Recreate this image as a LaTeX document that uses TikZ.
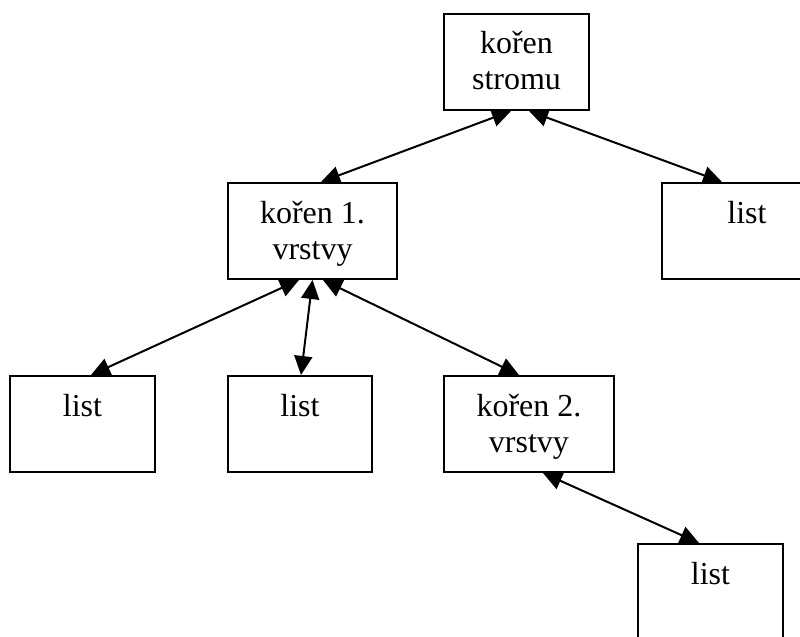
\documentclass[tikz,border=0pt]{standalone}
\usepackage{fontspec}
\setmainfont{Liberation Serif}
\usetikzlibrary{arrows.meta}
\newcommand{\boxtext}[2]{\parbox[t][48pt][t]{#1}{\centering\rule{0pt}{20pt}#2}}

\begin{document}
\begin{tikzpicture}[x=0.5pt, y=-0.5pt,
    box/.style={draw, line width=1pt, inner sep=0pt, anchor=north west,
      font=\fontsize{16}{18}\selectfont},
    link/.style={line width=1pt,
      {Triangle[length=9.5pt,width=9pt]}-{Triangle[length=9.5pt,width=9pt]}}]

      \path[use as bounding box, clip] (0,0) rectangle (800,637);

      % Root and first level
      \node[box] (root) at (443,13) {\boxtext{72.5pt}{kořen\\stromu}};
      \node[box] (lvlone) at (227,182) {\boxtext{84.5pt}{kořen 1.\\vrstvy}};
      \node[box] (leafR) at (661,182) {\boxtext{85pt}{list}};

      % Second level
      \node[box] (leafA) at (9,375) {\boxtext{72.5pt}{list}};
      \node[box] (leafB) at (227,375) {\boxtext{72pt}{list}};
      \node[box] (lvltwo) at (443,375) {\boxtext{85pt}{kořen 2.\\vrstvy}};

      % Third level
      \node[box] (leafD) at (637,543) {\boxtext{72.5pt}{list}};

      % Links between the boxes
      \draw[link] ([xshift=-2.75pt]root.south) -- ([xshift=4.25pt]lvlone.north);
      \draw[link] ([xshift=6.25pt]root.south) -- ([xshift=30.5pt]leafR.north west);
      \draw[link] ([xshift=-6.75pt]lvlone.south) -- ([xshift=4.25pt]leafA.north);
      \draw[link] (lvlone.south) -- ([xshift=0.5pt]leafB.north);
      \draw[link] ([xshift=5.25pt]lvlone.south) -- ([xshift=-5pt]lvltwo.north);
      \draw[link] ([xshift=7pt]lvltwo.south) -- ([xshift=-5.75pt]leafD.north);
    \end{tikzpicture}
\end{document}
